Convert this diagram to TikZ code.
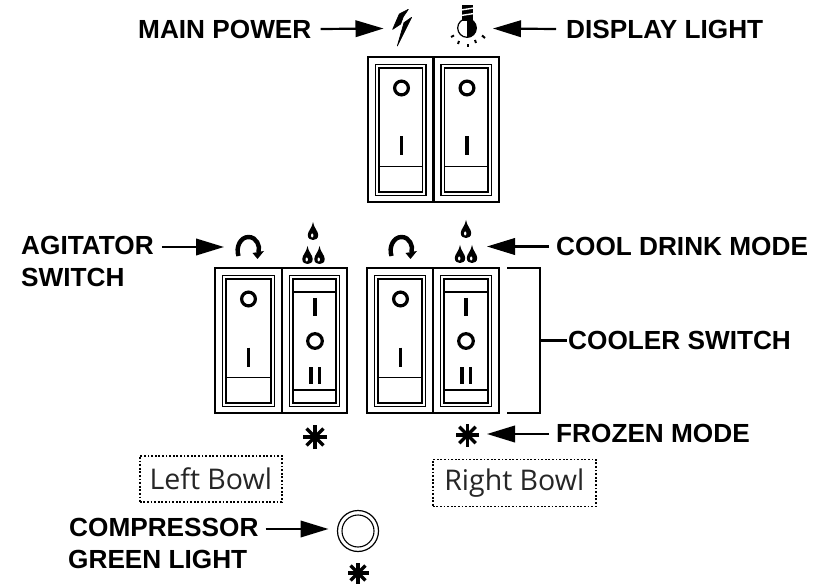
\documentclass[tikz,border=0pt]{standalone}
\usepackage{fontspec}
\setmainfont{Liberation Sans}
\newfontfamily\bowlfont{Open Sans}
\usetikzlibrary{arrows.meta}
\tikzset{
  lab/.style={font=\fontsize{26.2}{30}\selectfont\bfseries,inner sep=0pt,text height=18.8pt,text depth=0pt,anchor=west,text=black},
  pointer/.style={line width=2.2pt,-{Triangle[length=28pt,width=16.5pt]},black},
  outerframe/.style={line width=2.5pt,draw=black},
  innerframe/.style={line width=1.8pt,draw=black},
  thinline/.style={line width=1.5pt,draw=black},
  mark stroke/.style={line width=3.2pt,draw=black},
  snowline/.style={line width=3.2pt,draw=black},
  bowl/.style={font=\bowlfont\fontsize{28.5}{32}\selectfont,text=black!85,draw=black,dash pattern=on 1.8pt off 1.8pt,line width=1.6pt,inner sep=0pt,anchor=north west},
}
% cell: x0, y0, width
\newcommand{\cellframe}[3]{%
  \draw[outerframe] (#1,#2) rectangle ++(#3,145);
  \draw[innerframe] (#1+7.5,#2+7.5) rectangle (#1+#3-7.5,#2+138.5);
  \draw[thinline] (#1+11,#2+11) rectangle (#1+#3-11,#2+135);
}
\newcommand{\rockerone}[3]{%
  \cellframe{#1}{#2}{#3}
  \draw[thinline] (#1+11,#2+109.5) -- (#1+#3-11,#2+109.5);
  \draw[mark stroke] (#1+33.5,#2+31) circle (6.9);
  \draw[mark stroke,line width=3.6pt] (#1+33.5,#2+79.5) -- (#1+33.5,#2+98.5);
}
\newcommand{\rockertwo}[3]{%
  \cellframe{#1}{#2}{#3}
  \draw[thinline] (#1+11,#2+24) -- (#1+#3-11,#2+24);
  \draw[thinline] (#1+11,#2+122) -- (#1+#3-11,#2+122);
  \draw[mark stroke,line width=3.6pt] (#1+33,#2+30) -- (#1+33,#2+48);
  \draw[mark stroke] (#1+33,#2+73) circle (7.3);
  \draw[mark stroke,line width=3.4pt] (#1+29,#2+99) -- (#1+29,#2+116);
  \draw[mark stroke,line width=3.4pt] (#1+37.5,#2+99) -- (#1+37.5,#2+116);
}
\newcommand{\snowflake}[3]{%
  \foreach \a in {0,45,90,135}{\draw[snowline] (#1,#2) ++(\a:#3) -- ++(180+\a:2*#3);}
}
\newcommand{\dropicon}[2]{%
  \fill[black] (#1,#2) .. controls (#1+0.8,#2+6) and (#1+5.2,#2+9) .. (#1+5.2,#2+13)
     .. controls (#1+5.2,#2+16.5) and (#1+2.8,#2+18) .. (#1,#2+18)
     .. controls (#1-2.8,#2+18) and (#1-5.2,#2+16.5) .. (#1-5.2,#2+13)
     .. controls (#1-5.2,#2+9) and (#1-0.8,#2+6) .. (#1,#2);
  \fill[white] (#1-0.8,#2+13.5) ellipse (1.2 and 2);
}
\newcommand{\agitator}[2]{%
  \draw[line width=4.4pt,black] (#1-10,#2+7) .. controls (#1-13,#2-2) and (#1-8,#2-12) .. (#1,#2-12)
     .. controls (#1+8,#2-12) and (#1+12,#2-3) .. (#1+10,#2+3);
  \fill[black] (#1+4,#2+4) -- (#1+15.5,#2+2) -- (#1+9,#2+10) -- cycle;
}
\begin{document}
\begin{tikzpicture}[x=1pt,y=-1pt]
\useasboundingbox (0,0) rectangle (827,585);
% switches
\rockerone{368}{57}{65.5}
\rockerone{433.5}{57}{65.5}
\rockerone{215}{268}{67}
\rockertwo{282}{268}{65}
\rockerone{367}{268}{66}
\rockertwo{433}{268}{66}
% lightning
\begin{scope}[shift={(340,0)},scale=1/3]
\filldraw[black,line width=0.7pt,line join=round] (205,28) -- (178,42) -- (158,88) -- (182,72) -- (190,50) -- cycle;
\filldraw[black,line width=0.7pt,line join=round] (215,52) -- (192,68) -- (172,138) -- cycle;
\end{scope}
% bulb
\fill[black] (467,18.7) arc (-90:90:9.5) -- cycle;
\draw[line width=1.2pt,black] (467,28) circle (9.3);
\fill[black] (462,5) -- (473,5) -- (473,21) -- (462,21) -- cycle;
\draw[white,line width=1.4pt] (461,10) -- (474,8) (461,15.5) -- (474,13.5);
\foreach \xa/\ya/\xb/\yb in {451/37/454/35.5, 458/44/459/41, 467.5/47/467.5/44, 476/43/475/40, 485/38/482/35.5}
  \draw[line width=2pt,black] (\xa,\ya) -- (\xb,\yb);
% icons row 2
\agitator{248.5}{249}
\agitator{401.5}{249}
\dropicon{313}{222}\dropicon{307.5}{246}\dropicon{319.5}{246}
\dropicon{466}{220}\dropicon{460}{245}\dropicon{472}{245}
\snowflake{315}{437}{12}
\snowflake{467.5}{435}{11.5}
% bracket
\coordinate (brk) at (540,340.5);
\draw[line width=2.2pt,black] (507,268) -- (540,268) -- (540,413) -- (507,413);
% bowls
\node[bowl,minimum width=142pt,minimum height=46pt] (lb) at (139,455) {Left Bowl};
\node[bowl,minimum width=163pt,minimum height=47pt] (rb) at (432,458.5) {Right Bowl};
% compressor light
\node[circle,draw=black,line width=1.2pt,minimum size=41pt,inner sep=0pt] (lampout) at (358,531) {};
\node[circle,draw=black,line width=1.1pt,minimum size=32pt,inner sep=0pt] (lampin) at (358,531) {};
\snowflake{358}{573}{10.5}
% targets
\coordinate (tipmain) at (383.5,28.5);
\coordinate (tipdisp) at (493,28.5);
\coordinate (tipag) at (224,247);
\coordinate (tipcool) at (487,246.5);
\coordinate (tipfrozen) at (487,434);
\coordinate (tipcomp) at (328.5,529);
% labels
\node[lab] (mainp) at (138,29) {MAIN POWER};
\node[lab] (displ) at (566,29) {DISPLAY LIGHT};
\node[lab] (agit) at (21,245) {AGITATOR};
\node[lab] (sw) at (21,277) {SWITCH};
\node[lab] (cool) at (556,246.5) {COOL DRINK MODE};
\node[lab] (cooler) at (568,340.5) {COOLER SWITCH};
\node[lab] (frozen) at (556,433.5) {FROZEN MODE};
\node[lab] (comp) at (69,527) {COMPRESSOR};
\node[lab] (green) at (68,559) {GREEN LIGHT};
% connectors
\draw[pointer] ([xshift=9pt]mainp.east) -- (tipmain);
\draw[pointer] ([xshift=-10pt]displ.west) -- (tipdisp);
\draw[pointer] ([xshift=8pt]agit.east|-tipag) -- (tipag);
\draw[pointer] ([xshift=-7pt]cool.west) -- (tipcool);
\draw[pointer] ([xshift=-7pt]frozen.west|-tipfrozen) -- (tipfrozen);
\draw[pointer] ([xshift=7pt]comp.east|-tipcomp) -- (tipcomp);
\draw[line width=2.2pt,black] (brk) -- ([xshift=-1pt]cooler.west);
\end{tikzpicture}
\end{document}
